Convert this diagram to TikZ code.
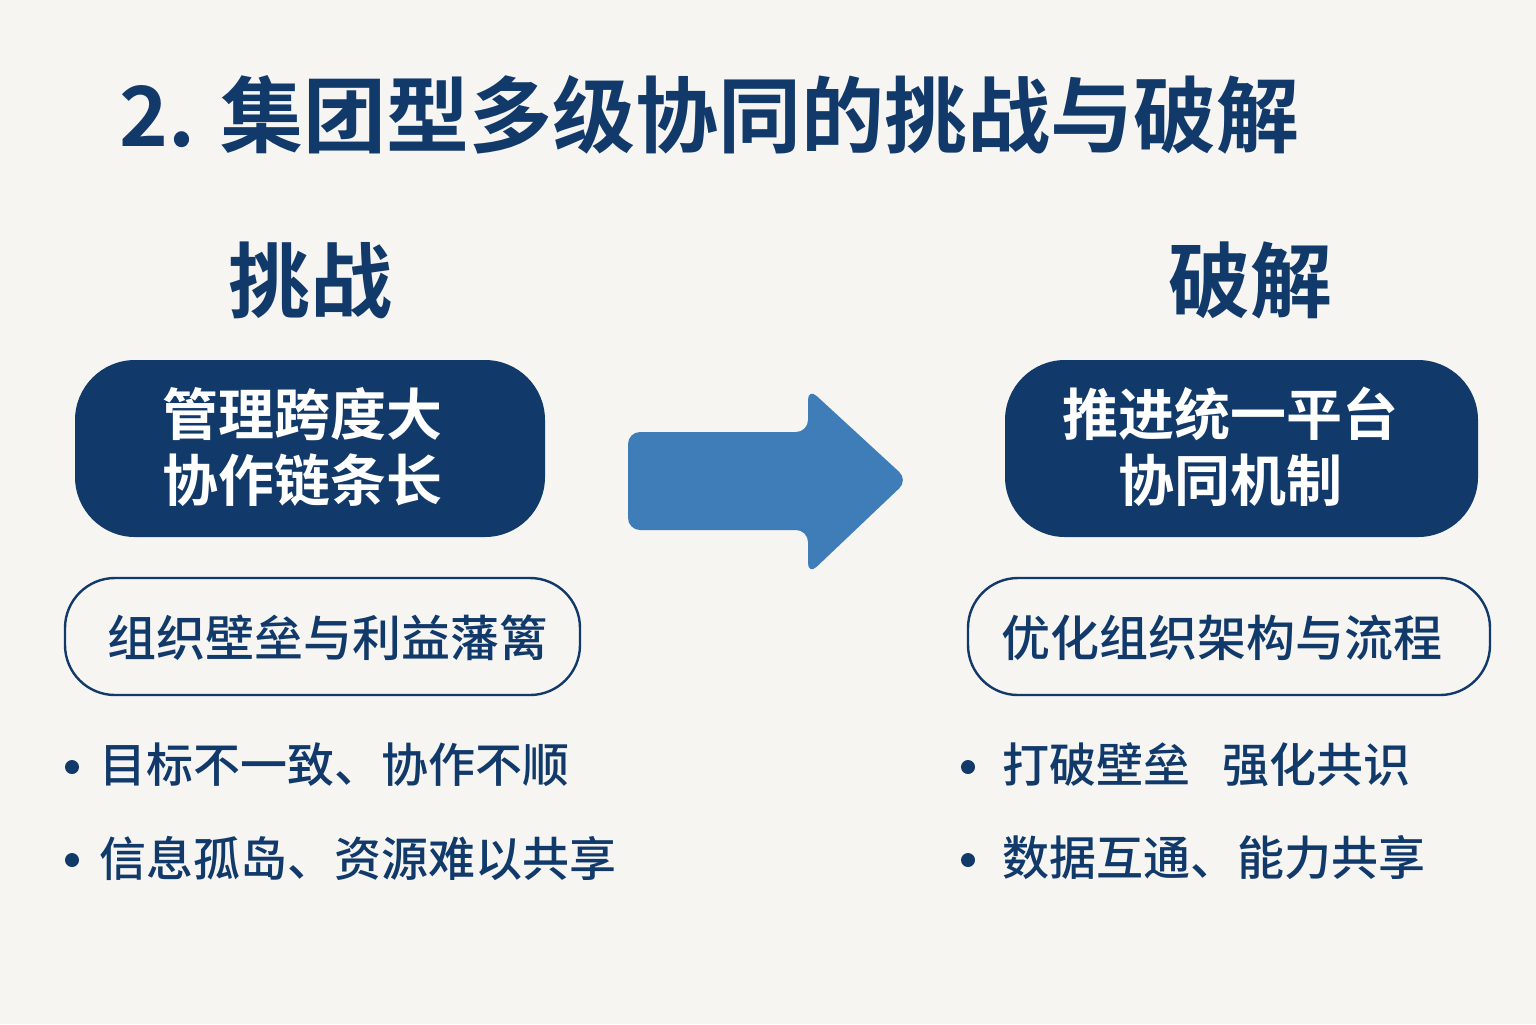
\documentclass[tikz,border=0pt]{standalone}
\usepackage{fontspec}
\newfontfamily\cjk{Noto Sans CJK SC Medium}
\newfontfamily\cjkb{Noto Sans CJK SC Bold}
\definecolor{navy}{HTML}{113A6B}
\definecolor{bg}{HTML}{F6F5F2}
\definecolor{arr}{HTML}{3F7DB8}
\begin{document}
\begin{tikzpicture}[x=0.5pt,y=-0.5pt,
  darkbox/.style={fill=navy,rounded corners=30pt,text=white},
  outbox/.style={draw=navy,line width=1.2pt,fill=bg,rounded corners=25pt},
  bl/.style={anchor=west,text=navy,font=\cjk\fontsize{23.5}{27}\selectfont},
  dot/.style={circle,fill=navy,inner sep=0pt,minimum size=7pt}]
\fill[bg] (0,0) rectangle (1536,1024);
\node[anchor=west,text=navy,font=\cjkb\fontsize{41.5}{46}\selectfont] (title) at (112,115) {2. 集团型多级协同的挑战与破解};
\node[text=navy,font=\cjkb\fontsize{41}{46}\selectfont] (h1) at (310,280) {挑战};
\node[text=navy,font=\cjkb\fontsize{41}{46}\selectfont] (h2) at (1250,280) {破解};
\fill[darkbox] (75,360) rectangle (545,537);
\fill[darkbox] (1005,360) rectangle (1478,537);
\node[text=white,font=\cjkb\fontsize{28}{34}\selectfont,align=center] (d1) at (302,447) {管理跨度大\\[-1pt]协作链条长};
\node[text=white,font=\cjkb\fontsize{28}{34}\selectfont,align=center] (d2) at (1230,447) {推进统一平台\\[-1pt]协同机制};
\draw[outbox] (65,578) rectangle (580,695);
\draw[outbox] (968,578) rectangle (1490,695);
\node[text=navy,font=\cjk\fontsize{24.5}{27}\selectfont] (o1) at (328,638) {组织壁垒与利益藩篱};
\node[text=navy,font=\cjk\fontsize{24.5}{27}\selectfont] (o2) at (1222,638) {优化组织架构与流程};
\node[dot] (b1) at (72,767) {};
\node[bl] (t1) at (92,765) {目标不一致、协作不顺};
\node[dot] (b2) at (72,860) {};
\node[bl] (t2) at (92,858) {信息孤岛、资源难以共享};
\node[dot] (b3) at (968,767) {};
\node[bl] (t3) at (995,765) {打破壁垒\hspace{0.7em}强化共识};
\node[dot] (b4) at (968,860) {};
\node[bl] (t4) at (995,858) {数据互通、能力共享};
\fill[arr,rounded corners=6pt] (628,432) -- (808,432) -- (808,388) -- (908,480) -- (808,575) -- (808,530) -- (628,530) -- cycle;
\end{tikzpicture}
\end{document}
